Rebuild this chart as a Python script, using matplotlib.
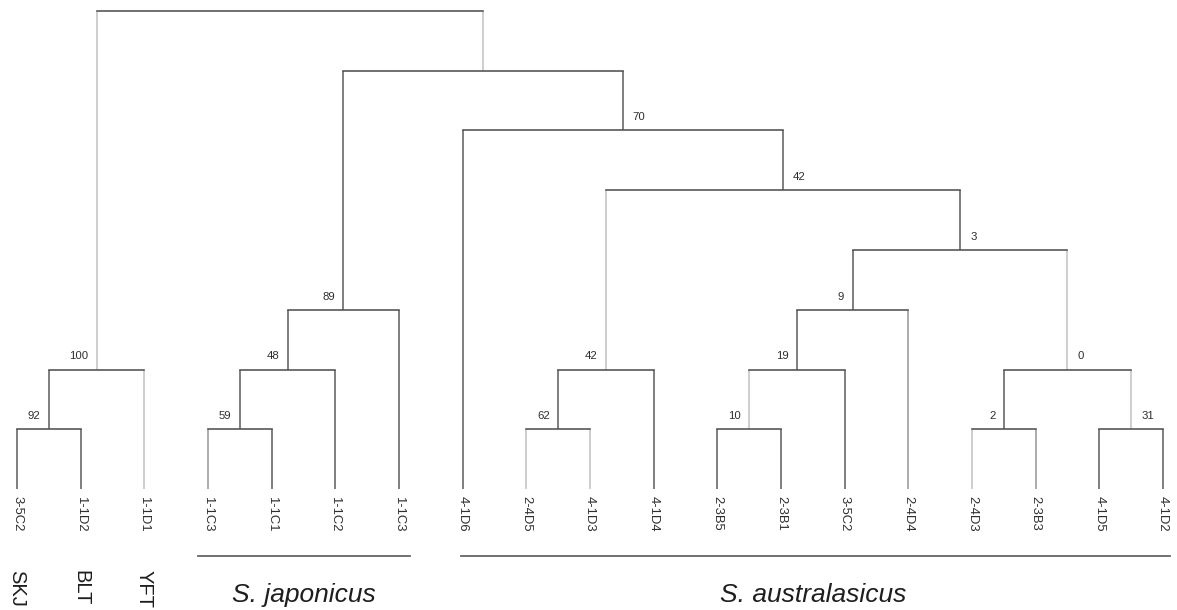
import matplotlib.pyplot as plt

plt.rcParams['font.family'] = ['Liberation Sans', 'DejaVu Sans']

# leaves, left to right
leaf_labels = ['3-5C2', '1-1D2', '1-1D1', '1-1C3', '1-1C1', '1-1C2', '1-1C3',
               '4-1D6', '2-4D5', '4-1D3', '4-1D4', '2-3B5', '2-3B1', '3-5C2',
               '2-4D4', '2-4D3', '2-3B3', '4-1D5', '4-1D2']

# merges in linkage order: node 19 is the first merge, node 36 the root
merge_left = [0, 19, 3, 21, 22, 8, 24, 11, 26, 27, 15, 17, 29, 28, 25, 7, 23, 20]
merge_right = [1, 2, 4, 5, 6, 9, 10, 12, 13, 14, 16, 18, 30, 31, 32, 33, 34, 35]
merge_height = [1, 2, 1, 2, 3, 1, 2, 1, 2, 3, 1, 1, 2, 4, 5, 6, 7, 8]

# bootstrap support at each merge and which side of the stem it sits on
support = ['92', '100', '59', '48', '89', '62', '42', '10', '19', '9',
           '2', '31', '0', '3', '42', '70', '', '']
support_side = ['l', 'l', 'l', 'l', 'l', 'l', 'l', 'l', 'l', 'l',
                'l', 'r', 'r', 'r', 'r', 'r', 'l', 'l']

# nodes whose stem is drawn pale / half-tone
pale_nodes = [2, 8, 9, 15, 20, 25, 26, 30, 31, 35]
mid_nodes = [3, 14, 16]

outgroups = ['SKJ', 'BLT', 'YFT']
groups = ['S. japonicus', 'S. australasicus']
group_first = [3, 7]
group_last = [6, 18]

H_COL = '#505050'
DARK = '#626262'
PALE = '#c4c4c4'
MID = '#9a9a9a'
LW = 1.15

n = len(leaf_labels)
xpos = {i: float(i) for i in range(n)}
ypos = {i: 0.0 for i in range(n)}
for k, (a, b, h) in enumerate(zip(merge_left, merge_right, merge_height)):
    xpos[n + k] = (xpos[a] + xpos[b]) / 2
    ypos[n + k] = h


def stem_colour(node):
    if node in pale_nodes:
        return PALE
    if node in mid_nodes:
        return MID
    return DARK


fig = plt.figure(figsize=(11.77, 6.10), dpi=100)
ax = fig.add_axes([0, 0, 1, 1])
ax.set_xlim(-0.267, 18.22)
ax.set_ylim(-2.025, 8.184)
ax.axis('off')

for k, (a, b, h) in enumerate(zip(merge_left, merge_right, merge_height)):
    for child in (a, b):
        ax.plot([xpos[child], xpos[child]], [ypos[child], h],
                color=stem_colour(child), lw=LW, solid_capstyle='butt')
    ax.plot([xpos[a], xpos[b]], [h, h], color=H_COL, lw=LW,
            solid_capstyle='projecting', zorder=3)
    if support[k]:
        right = support_side[k] == 'r'
        ax.annotate(support[k], (xpos[n + k], h),
                    xytext=(7.2 if right else -6.1, 9.4),
                    textcoords='offset points',
                    ha='left' if right else 'right', va='center',
                    fontsize=8.2, color='#2e2e2e')

for i, lab in enumerate(leaf_labels):
    ax.annotate(lab, (i, 0), xytext=(0, -5), textcoords='offset points',
                rotation=270, ha='center', va='top', fontsize=9.4,
                color='#2e2e2e')

for i, lab in enumerate(outgroups):
    ax.text(i, -1.356, lab, rotation=270, ha='center', va='top',
            fontsize=14.5, color='#1e1e1e')

pads = [(0.16, 0.17), (0.02, 0.11)]
for name, a, b, (pl, pr) in zip(groups, group_first, group_last, pads):
    ax.plot([a - pl, b + pr], [-1.12, -1.12], color='#666666', lw=1.3)
    ax.text((a + b) / 2, -1.89, name, style='italic', ha='center',
            va='baseline', fontsize=19, color='#1e1e1e')

fig.savefig('out.png', dpi=100)
